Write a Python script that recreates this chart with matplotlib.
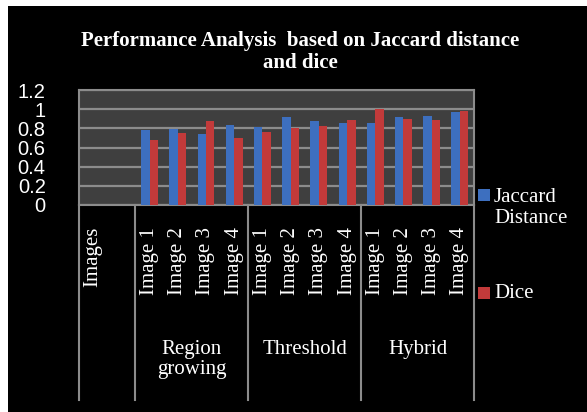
import numpy as np
import matplotlib.pyplot as plt
from matplotlib.patches import Rectangle
from matplotlib.transforms import blended_transform_factory

# values
tick_labels = ["Images", "", "Image 1", "Image 2", "Image 3", "Image 4",
               "Image 1", "Image 2", "Image 3", "Image 4",
               "Image 1", "Image 2", "Image 3", "Image 4"]
groups = ["Region\ngrowing", "Threshold", "Hybrid"]
jaccard = [0.78, 0.79, 0.74, 0.83, 0.81, 0.92, 0.88, 0.86, 0.86, 0.92, 0.93, 0.97]
dice = [0.68, 0.75, 0.88, 0.70, 0.76, 0.80, 0.82, 0.89, 1.00, 0.90, 0.89, 0.98]
yticks = [0, 0.2, 0.4, 0.6, 0.8, 1, 1.2]

W, H = 587, 412
serif = "Liberation Serif"
grey = "#8c8c8c"

def fx(px):
    return px / W

def fy(py):
    return 1 - py / H

fig = plt.figure(figsize=(W / 100, H / 100), dpi=100, facecolor="white")
fig.add_artist(Rectangle((fx(8), 0), 1 - fx(8), fy(6), transform=fig.transFigure,
                         facecolor="black", edgecolor="none", zorder=-10))

# plot area 79..474 px wide, 90..205 px tall
ax = fig.add_axes([fx(79), fy(205), fx(474 - 79), (205 - 90) / H])
ax.set_facecolor("#3f3f3f")

x = np.arange(2, 2 + len(jaccard))
w = 0.3
ax.bar(x - w / 2, jaccard, w, color="#3d6fbf", zorder=3)
ax.bar(x + w / 2, dice, w, color="#c23a3a", zorder=3)

ax.set_xlim(-0.5, len(tick_labels) - 0.5)
ax.set_ylim(0, 1.2)
ax.set_yticks(yticks)
ax.set_yticklabels(["0", "0.2", "0.4", "0.6", "0.8", "1", "1.2"],
                   fontfamily="Liberation Sans", fontsize=14.5, color="white")
ax.tick_params(axis="y", length=0, pad=24)
ax.set_xticks([])
ax.yaxis.grid(True, color=grey, linewidth=1.6, zorder=1)
ax.set_axisbelow(True)
for s in ax.spines.values():
    s.set_color(grey)
    s.set_linewidth(1.5)

# category table under the plot
ppx = 1 / 115  # axes fraction per pixel in y
tr = blended_transform_factory(ax.transData, ax.transAxes)
for b in [-0.5, 1.5, 5.5, 9.5, 13.5]:
    ax.plot([b, b], [0, -195 * ppx], color=grey, lw=1.5, transform=tr, clip_on=False)

for i, lab in enumerate(tick_labels):
    ax.text(i, -22 * ppx, lab, rotation=90, ha="center", va="top", transform=tr,
            fontfamily=serif, fontsize=15, color="white")

for g, lab in enumerate(groups):
    ax.text(3.5 + 4 * g, -135 * ppx, lab, ha="center", va="top", transform=tr,
            fontfamily=serif, fontsize=15, color="white", linespacing=1.1)

# title
fig.text(fx(300), fy(52), "Performance Analysis  based on Jaccard distance\nand dice",
         ha="center", va="center", fontfamily=serif, fontweight="bold",
         fontsize=15, color="white", linespacing=1.1)

# legend
fig.add_artist(Rectangle((fx(478), fy(201)), fx(12), 12 / H, transform=fig.transFigure,
                         facecolor="#3d6fbf", edgecolor="none"))
fig.text(fx(494), fy(208), "Jaccard\nDistance", ha="left", va="center",
         fontfamily=serif, fontsize=15, color="white", linespacing=1.1)
fig.add_artist(Rectangle((fx(478), fy(299)), fx(12), 12 / H, transform=fig.transFigure,
                         facecolor="#c23a3a", edgecolor="none"))
fig.text(fx(494), fy(293), "Dice", ha="left", va="center",
         fontfamily=serif, fontsize=15, color="white")

fig.savefig("out.png", dpi=100, facecolor=fig.get_facecolor())
